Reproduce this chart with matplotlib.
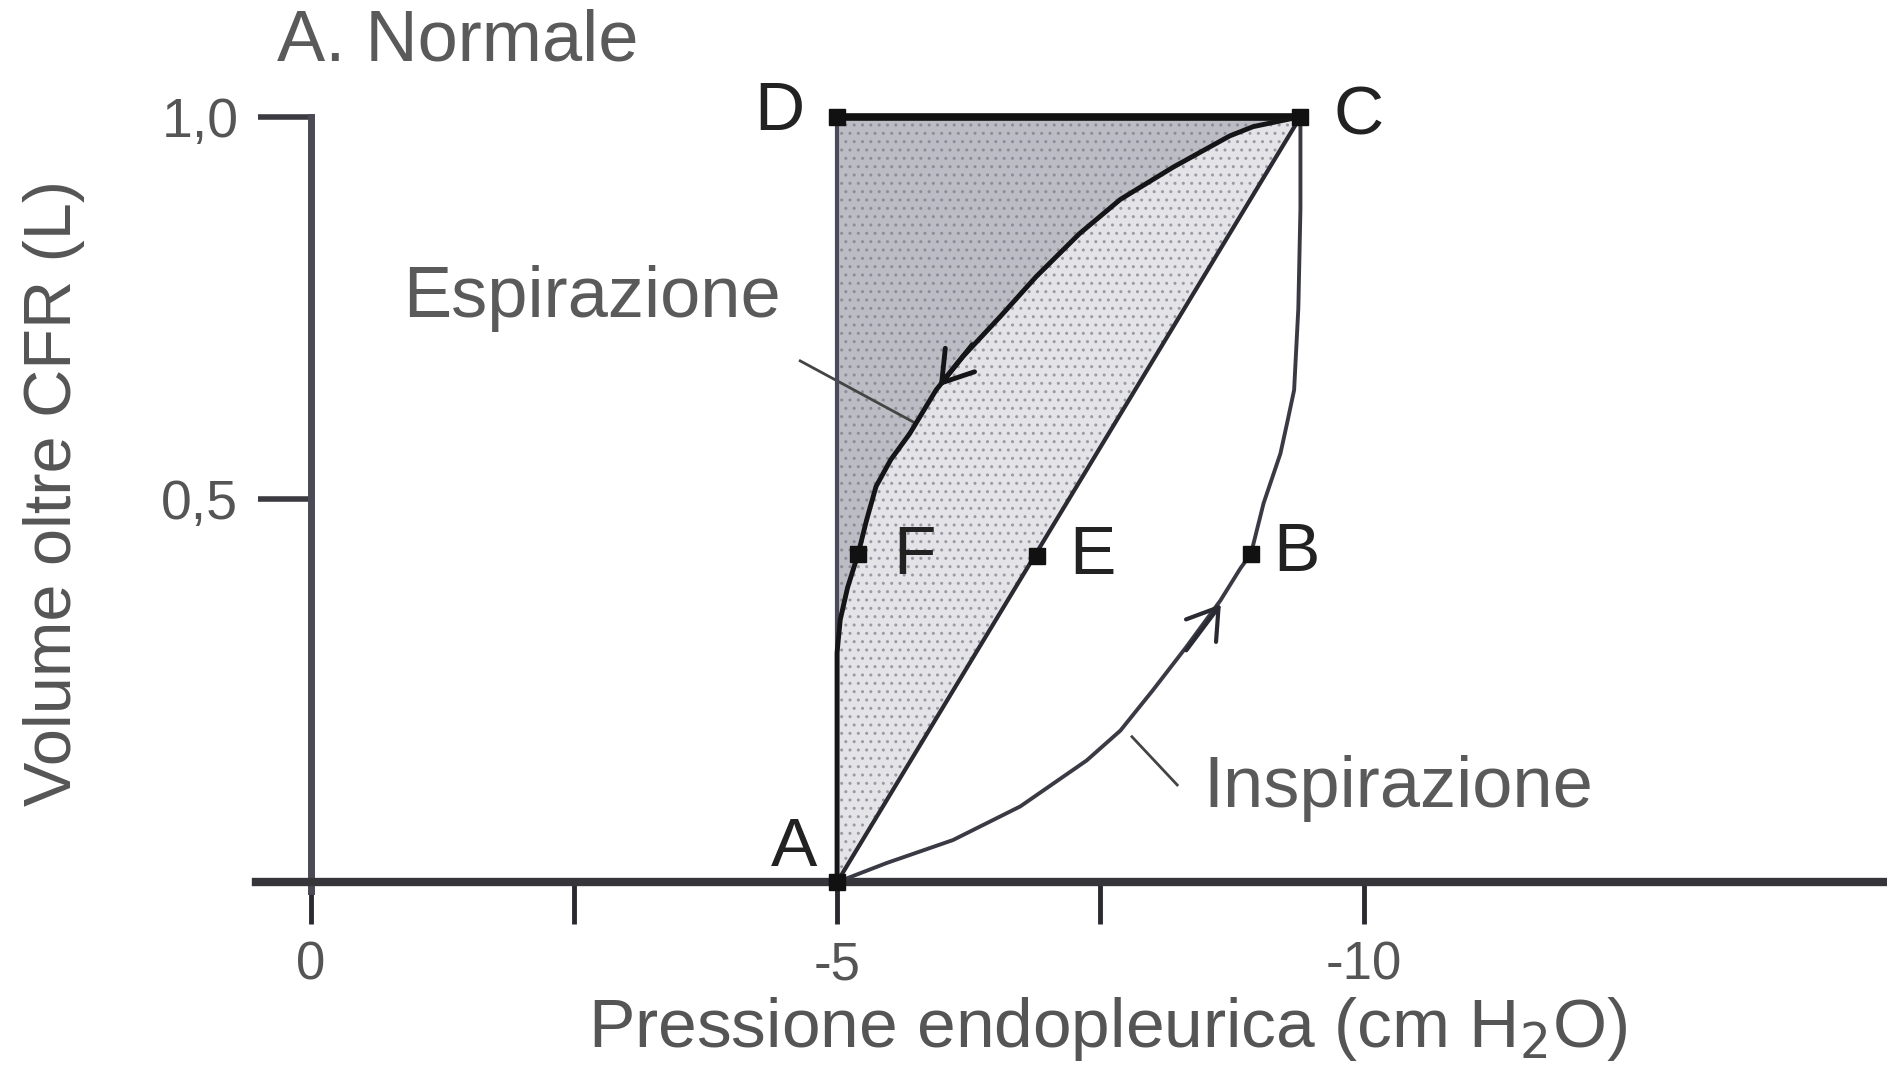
import matplotlib
matplotlib.use("Agg")
import matplotlib.pyplot as plt
import numpy as np

plt.rcParams['font.family'] = ['Liberation Sans', 'DejaVu Sans']

# pressure-volume loop points (cm H2O, L above FRC)
point_names = ["A", "B", "C", "D", "E", "F"]
point_x = [-5.0, -8.93, -9.4, -5.0, -6.9, -5.2]
point_y = [0.0, 0.429, 1.0, 1.0, 0.426, 0.429]

# expiration limb, C -> A
exp_x = [-9.4, -8.95, -8.73, -8.19, -7.69, -7.30, -6.89, -6.55, -6.19, -5.94, -5.69,
         -5.51, -5.37, -5.28, -5.2, -5.10, -5.03, -5.0, -5.0]
exp_y = [1.0, 0.987, 0.975, 0.934, 0.892, 0.847, 0.791, 0.739, 0.686, 0.643, 0.586,
         0.552, 0.517, 0.473, 0.429, 0.385, 0.343, 0.30, 0.0]

# inspiration limb, A -> C
insp_x = [-5.0, -5.47, -6.10, -6.74, -7.37, -7.69, -8.0, -8.32, -8.64, -8.83, -8.93,
          -9.05, -9.21, -9.28, -9.34, -9.38, -9.4, -9.4]
insp_y = [0.0, 0.025, 0.055, 0.099, 0.159, 0.198, 0.251, 0.308, 0.368, 0.41, 0.429,
          0.495, 0.56, 0.604, 0.643, 0.75, 0.88, 1.0]

x_ticks = [0, -2.5, -5, -7.5, -10]
x_ticklabels = ["0", "", "-5", "", "-10"]
y_ticks = [0.5, 1.0]
y_ticklabels = ["0,5", "1,0"]

pts = dict(zip(point_names, zip(point_x, point_y)))

fig = plt.figure(figsize=(18.87, 10.72), dpi=100)
ax = fig.add_axes([0, 0, 1, 1])
ax.set_xlim(2.949, -14.97)
ax.set_ylim(-0.248, 1.1525)

# spines as the two axes
for s in ["top", "right"]:
    ax.spines[s].set_visible(False)
ax.spines["left"].set_position(("data", 0))
ax.spines["bottom"].set_position(("data", 0))
ax.spines["left"].set_bounds(-0.012, 1.0)
ax.spines["bottom"].set_bounds(0.52, -15)
ax.spines["left"].set_linewidth(5)
ax.spines["left"].set_color("#4a4a55")
ax.spines["bottom"].set_linewidth(6)
ax.spines["bottom"].set_color("#35353a")
ax.patch.set_alpha(0)

ax.set_xticks(x_ticks)
ax.set_xticklabels(x_ticklabels)
ax.set_yticks(y_ticks)
ax.set_yticklabels(y_ticklabels)
ax.tick_params(axis="x", direction="out", length=30, width=3.5, color="#2a2a30",
               pad=12, labelsize=38, labelcolor="#555555")
ax.tick_params(axis="y", direction="out", length=38, width=4, color="#3a3a40",
               pad=14, labelsize=40, labelcolor="#555555")

# shaded work areas
D, C, A = pts["D"], pts["C"], pts["A"]
dark_x = [D[0]] + exp_x + [D[0]]
dark_y = [D[1]] + exp_y + [D[1]]
ax.fill(dark_x, dark_y, facecolor="#bcbcc4", edgecolor="#8d8d98", hatch="..", lw=0, zorder=1)
light_x = exp_x + [C[0]]
light_y = exp_y + [C[1]]
ax.fill(light_x, light_y, facecolor="#e4e4e8", edgecolor="#9a9aa4", hatch="..", lw=0, zorder=1)

# loop outlines
ax.plot([D[0], C[0]], [D[1], C[1]], color="#111111", lw=5.5, zorder=3, solid_capstyle="butt")
ax.plot([D[0], A[0]], [D[1], A[1]], color="#4a4a58", lw=3, zorder=3)
ax.plot([A[0], C[0]], [A[1], C[1]], color="#2a2a32", lw=3, zorder=3)
ax.plot(exp_x, exp_y, color="#151518", lw=3.5, zorder=3, solid_joinstyle="round")
ax.plot(insp_x, insp_y, color="#3a3a44", lw=2.8, zorder=3, solid_joinstyle="round")

ax.plot(point_x, point_y, "s", color="#111111", ms=11, zorder=4)

# direction arrows
ax.annotate("", xy=(-5.95, 0.645), xytext=(-6.3, 0.705),
            arrowprops=dict(arrowstyle="->,head_length=0.7,head_width=0.45", lw=3.5,
                            color="#151518", mutation_scale=30), zorder=5)
ax.annotate("", xy=(-8.66, 0.366), xytext=(-8.3, 0.3),
            arrowprops=dict(arrowstyle="->,head_length=0.7,head_width=0.45", lw=3,
                            color="#2a2a32", mutation_scale=30), zorder=5)

# point labels
lbl = dict(fontsize=50, color="#222222", va="center", zorder=6)
ax.text(-4.69, 1.006, "D", ha="right", **lbl)
ax.text(-9.71, 1.0, "C", ha="left", **lbl)
ax.text(-4.59, 0.044, "A", ha="center", **lbl)
ax.text(-5.53, 0.426, "F", ha="left", **lbl)
ax.text(-7.2, 0.426, "E", ha="left", **lbl)
ax.text(-9.14, 0.43, "B", ha="left", **lbl)

# limb labels with leaders
txt = dict(fontsize=52, color="#5a5a5a", va="center")
ax.text(-0.88, 0.7626, "Espirazione", ha="left", **txt)
ax.plot([-4.65, -5.74], [0.681, 0.60], color="#444444", lw=2)
ax.text(-8.48, 0.1226, "Inspirazione", ha="left", **txt)
ax.plot([-8.23, -7.8], [0.127, 0.19], color="#444444", lw=2)

ax.text(0.32, 1.097, "A. Normale", ha="left", **txt)
ax.text(-7.566, -0.192, "Pressione endopleurica (cm H$_2$O)", ha="center",
        fontsize=50, color="#555555", va="center")
ax.text(2.434, 0.508, "Volume oltre CFR (L)", ha="center", va="center", rotation=90,
        fontsize=48, color="#555555")

fig.savefig("out.png", dpi=100)
